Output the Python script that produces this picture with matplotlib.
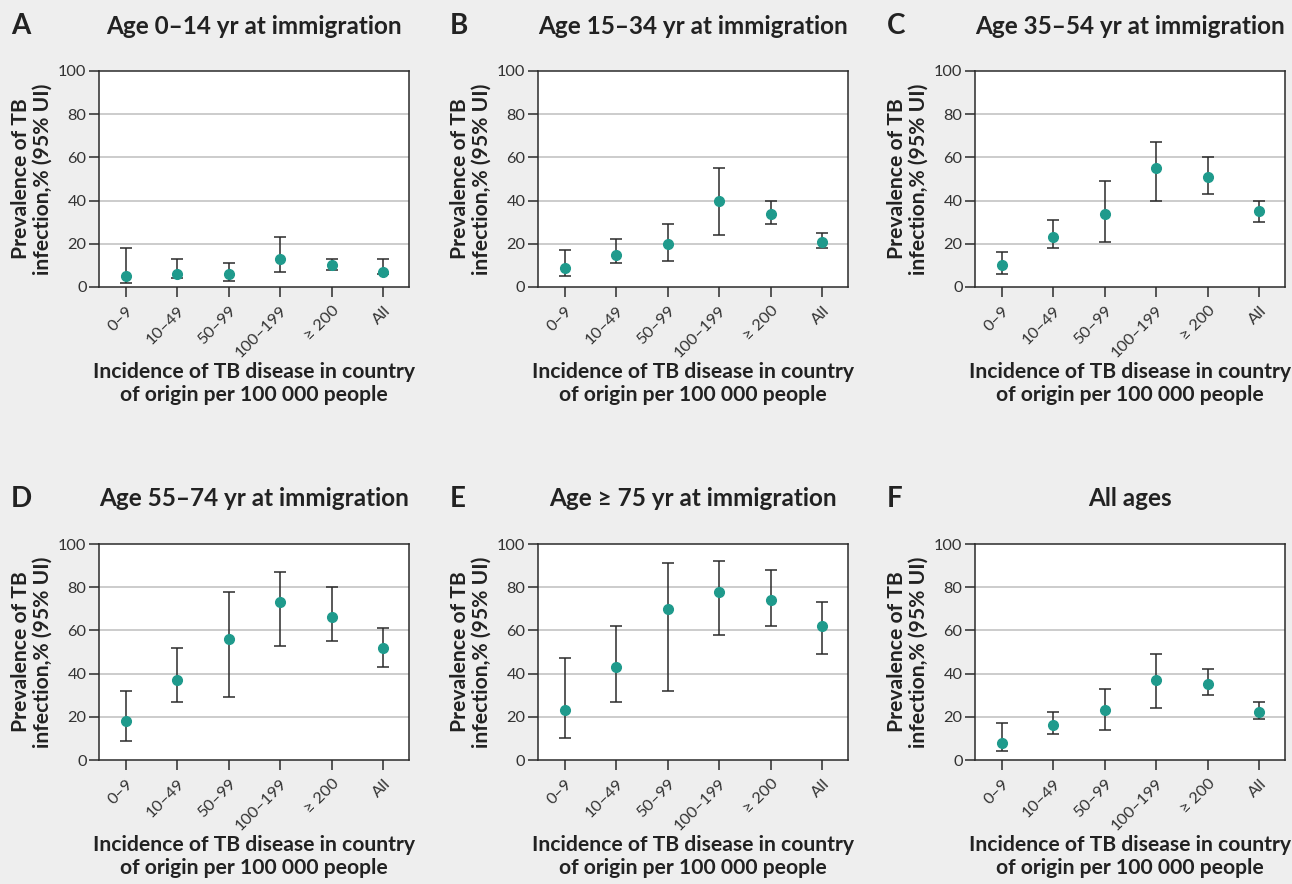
import numpy as np
import matplotlib.pyplot as plt

plt.rcParams['font.family'] = ['Lato', 'DejaVu Sans']

categories = ['0–9', '10–49', '50–99', '100–199', '≥ 200', 'All']

panel_letters = ['A', 'B', 'C', 'D', 'E', 'F']
panel_titles = ['Age 0–14 yr at immigration', 'Age 15–34 yr at immigration',
                'Age 35–54 yr at immigration', 'Age 55–74 yr at immigration',
                'Age ≥ 75 yr at immigration', 'All ages']

# point estimate, lower and upper 95% UI for each panel
est_a = [5, 6, 6, 13, 10, 7]
low_a = [2, 4, 3, 7, 8, 6]
high_a = [18, 13, 11, 23, 13, 13]

est_b = [9, 15, 20, 40, 34, 21]
low_b = [5, 11, 12, 24, 29, 18]
high_b = [17, 22, 29, 55, 40, 25]

est_c = [10, 23, 34, 55, 51, 35]
low_c = [6, 18, 21, 40, 43, 30]
high_c = [16, 31, 49, 67, 60, 40]

est_d = [18, 37, 56, 73, 66, 52]
low_d = [9, 27, 29, 53, 55, 43]
high_d = [32, 52, 78, 87, 80, 61]

est_e = [23, 43, 70, 78, 74, 62]
low_e = [10, 27, 32, 58, 62, 49]
high_e = [47, 62, 91, 92, 88, 73]

est_f = [8, 16, 23, 37, 35, 22]
low_f = [4, 12, 14, 24, 30, 19]
high_f = [17, 22, 33, 49, 42, 27]

estimates = [est_a, est_b, est_c, est_d, est_e, est_f]
lows = [low_a, low_b, low_c, low_d, low_e, low_f]
highs = [high_a, high_b, high_c, high_d, high_e, high_f]

W, H = 1292, 884
bg = '#eeeeee'
teal = '#1f9a8c'
dark = '#2b2b2b'

fig = plt.figure(figsize=(W / 100, H / 100), dpi=100, facecolor=bg)

lefts = [99, 538, 975]
tops = [71, 544]
ax_w, ax_h = 310, 216

for i in range(6):
    row, col = divmod(i, 3)
    left, top = lefts[col], tops[row]
    ax = fig.add_axes([left / W, 1 - (top + ax_h) / H, ax_w / W, ax_h / H])
    ax.set_facecolor('white')

    x = np.arange(len(categories))
    est = np.array(estimates[i])
    yerr = [est - np.array(lows[i]), np.array(highs[i]) - est]
    ax.errorbar(x, est, yerr=yerr, fmt='none', ecolor=dark, elinewidth=1.1,
                capsize=4, capthick=1.1, zorder=3)
    ax.plot(x, est, 'o', color=teal, markersize=7, zorder=4)

    ax.set_xlim(-0.52, 5.5)
    ax.set_ylim(0, 100)
    ax.set_yticks([0, 20, 40, 60, 80, 100])
    for y in [20, 40, 60, 80]:
        ax.axhline(y, color='#cccccc', lw=1.4, zorder=1)

    ax.set_xticks(x)
    ax.set_xticklabels(categories, rotation=45, ha='right', rotation_mode='anchor')
    ax.tick_params(axis='both', direction='out', length=7, width=1.1, color=dark,
                   labelcolor='#333333', labelsize=11.8)
    ax.tick_params(axis='x', pad=5)
    ax.tick_params(axis='y', pad=2)
    for s in ax.spines.values():
        s.set_color(dark)
        s.set_linewidth(1.1)

    ax.text(-0.15, 0.5, 'Prevalence of TB\ninfection,% (95% UI)', transform=ax.transAxes,
            rotation=90, ha='right', va='center', ma='center', fontsize=15.2,
            fontweight='bold', color='#222222', linespacing=1.1)
    ax.text(0.5, -0.345, 'Incidence of TB disease in country\nof origin per 100 000 people',
            transform=ax.transAxes, ha='center', va='top', fontsize=15.2,
            fontweight='bold', color='#222222', linespacing=1.2)

    cx = left + ax_w / 2
    ty = top - 45
    fig.text(cx / W, 1 - ty / H, panel_titles[i], ha='center', va='center',
             fontsize=17.5, fontweight='bold', color='#222222')
    fig.text((left - 88) / W, 1 - ty / H, panel_letters[i], ha='left', va='center',
             fontsize=20, fontweight='bold', color='#222222')

fig.savefig('out.png', dpi=100, facecolor=bg)
